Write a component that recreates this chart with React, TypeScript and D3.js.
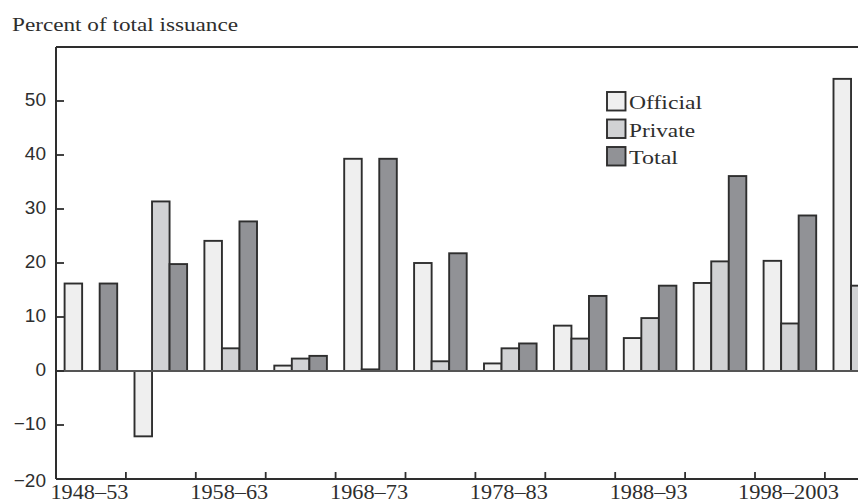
import React from 'react';
import * as d3 from 'd3';

const periods = [
  '1948–53', '1953–58', '1958–63', '1963–68', '1968–73', '1973–78',
  '1978–83', '1983–88', '1988–93', '1993–98', '1998–2003', '2003–08',
];
const tickLabels = ['1948–53', '1958–63', '1968–73', '1978–83', '1988–93', '1998–2003'];
const seriesNames = ['Official', 'Private', 'Total'];
const officialValues = [16.2, -12.1, 24.1, 1.0, 39.3, 20.0, 1.4, 8.4, 6.1, 16.3, 20.4, 54.1];
const privateValues = [0, 31.4, 4.2, 2.3, 0.3, 1.8, 4.2, 6.0, 9.8, 20.3, 8.8, 15.8];
const totalValues = [16.2, 19.8, 27.7, 2.8, 39.3, 21.8, 5.1, 13.9, 15.8, 36.1, 28.8, 69.9];
const yTicks = [-20, -10, 0, 10, 20, 30, 40, 50];

const fills: Record<string, string> = {
  Official: '#efefef',
  Private: '#d1d2d4',
  Total: '#919296',
};
const ink = '#2e2e2e';

export default function App() {
  const width = 858;
  const height = 503;
  const left = 56;
  const top = 47;
  const bottom = 479;
  const step = 69.9;

  const x0 = d3.scaleBand<string>()
    .domain(periods)
    .range([left, left + step * periods.length])
    .padding(0);

  // bars inside each period
  const x1 = d3.scaleBand<string>()
    .domain(seriesNames)
    .range([8.6, 61.2])
    .padding(0);

  const y = d3.scaleLinear().domain([-20, 60]).range([bottom, top]);

  const series = [
    { name: 'Official', values: officialValues },
    { name: 'Private', values: privateValues },
    { name: 'Total', values: totalValues },
  ];

  return (
    <svg
      width={width}
      height={height}
      style={{ position: 'fixed', left: 0, top: 0, background: '#fff', overflow: 'hidden' }}
    >
      <text
        x={12}
        y={31}
        fontFamily="Liberation Serif, serif"
        fontSize={19}
        fill={ink}
        textLength={226}
        lengthAdjust="spacingAndGlyphs"
      >
        Percent of total issuance
      </text>

      {/* bars */}
      {periods.map((p, i) => (
        <g key={p} transform={`translate(${x0(p)},0)`}>
          {series.map((s) => {
            const v = s.values[i];
            const y0 = y(Math.max(0, v));
            const h = Math.abs(y(v) - y(0));
            return (
              <rect
                key={s.name}
                x={x1(s.name)}
                y={y0}
                width={x1.bandwidth()}
                height={h}
                fill={fills[s.name]}
                stroke={ink}
                strokeWidth={1.9}
              />
            );
          })}
        </g>
      ))}

      {/* zero line */}
      <line x1={left} x2={width} y1={y(0)} y2={y(0)} stroke="#555" strokeWidth={1.8} />

      {/* frame */}
      <line x1={left} x2={width} y1={top} y2={top} stroke={ink} strokeWidth={2} />
      <line x1={left} x2={left} y1={top} y2={bottom} stroke={ink} strokeWidth={2} />
      <line x1={left} x2={width} y1={bottom} y2={bottom} stroke={ink} strokeWidth={2} />

      {/* y ticks */}
      {yTicks.map((t) => (
        <g key={t}>
          <line x1={left} x2={left + 8} y1={y(t)} y2={y(t)} stroke={ink} strokeWidth={1.8} />
          <text
            x={46}
            y={t === -20 ? y(t) + 3 : y(t)}
            textAnchor="end"
            dominantBaseline="middle"
            fontFamily="Liberation Sans, sans-serif"
            fontSize={19}
            fill={ink}
          >
            {t < 0 ? `−${Math.abs(t)}` : t}
          </text>
        </g>
      ))}

      {/* x ticks at group boundaries */}
      {periods.slice(1).map((p) => (
        <line
          key={p}
          x1={x0(p)}
          x2={x0(p)}
          y1={bottom}
          y2={bottom - 7}
          stroke={ink}
          strokeWidth={1.8}
        />
      ))}
      {periods.map((p) =>
        tickLabels.includes(p) ? (
          <text
            key={p}
            x={x0(p)! + x0.bandwidth() / 2 - 1.5}
            y={499}
            textAnchor="middle"
            fontFamily="Liberation Serif, serif"
            fontSize={20}
            fill={ink}
            textLength={p.length > 7 ? 101 : 78}
            lengthAdjust="spacingAndGlyphs"
          >
            {p}
          </text>
        ) : null
      )}

      {/* legend */}
      <g transform="translate(607,92)">
        {seriesNames.map((name, i) => (
          <g key={name} transform={`translate(0,${i * 27.5})`}>
            <rect width={18.5} height={18.5} fill={fills[name]} stroke={ink} strokeWidth={1.9} />
            <text
              x={22}
              y={17}
              fontFamily="Liberation Serif, serif"
              fontSize={19}
              fill={ink}
              textLength={name === 'Official' ? 73 : name === 'Private' ? 66 : 49}
              lengthAdjust="spacingAndGlyphs"
            >
              {name}
            </text>
          </g>
        ))}
      </g>
    </svg>
  );
}
